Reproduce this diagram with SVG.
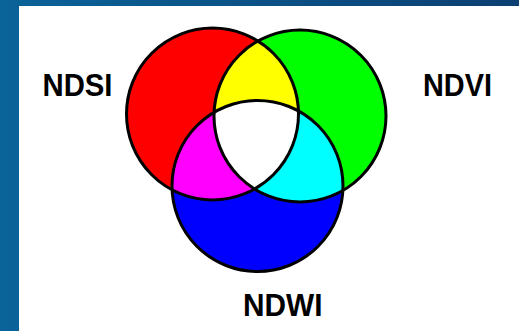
<svg xmlns="http://www.w3.org/2000/svg" width="519" height="331" viewBox="0 0 519 331">
  <style>
    .ring { fill: none; stroke: #000; stroke-width: 3; }
    .lbl { font-family: "Liberation Sans", Arial, sans-serif; font-weight: bold; font-size: 32px; fill: #000; }
  </style>
  <defs>
    <linearGradient id="bg" x1="0" y1="0" x2="1" y2="0">
      <stop offset="0" stop-color="#0a6399"/>
      <stop offset="1" stop-color="#0c3f72"/>
    </linearGradient>
    <clipPath id="cR"><circle cx="212.5" cy="114" r="86"/></clipPath>
    <clipPath id="cG"><circle cx="300" cy="116" r="86"/></clipPath>
  </defs>
  <rect x="0" y="0" width="519" height="331" fill="url(#bg)"/>
  <rect x="19" y="6" width="500" height="325" fill="#ffffff"/>

  <g id="fills">
    <circle cx="212.5" cy="114" r="86" fill="#ff0000"/>
    <circle cx="300" cy="116" r="86" fill="#00ff00"/>
    <circle cx="257.5" cy="186" r="85.5" fill="#0000ff"/>
    <circle cx="300" cy="116" r="86" fill="#ffff00" clip-path="url(#cR)"/>
    <circle cx="257.5" cy="186" r="85.5" fill="#ff00ff" clip-path="url(#cR)"/>
    <circle cx="257.5" cy="186" r="85.5" fill="#00ffff" clip-path="url(#cG)"/>
    <g clip-path="url(#cR)">
      <circle cx="257.5" cy="186" r="85.5" fill="#ffffff" clip-path="url(#cG)"/>
    </g>
  </g>

  <g id="ndsi">
    <circle class="ring" cx="212.5" cy="114" r="86"/>
    <text class="lbl" x="42.5" y="96" textLength="70" lengthAdjust="spacingAndGlyphs">NDSI</text>
  </g>
  <g id="ndvi">
    <circle class="ring" cx="300" cy="116" r="86"/>
    <text class="lbl" x="423" y="96" textLength="69" lengthAdjust="spacingAndGlyphs">NDVI</text>
  </g>
  <g id="ndwi">
    <circle class="ring" cx="257.5" cy="186" r="85.5"/>
    <text class="lbl" x="243" y="316" textLength="79.5" lengthAdjust="spacingAndGlyphs">NDWI</text>
  </g>
  <g id="connectors"/>
</svg>
